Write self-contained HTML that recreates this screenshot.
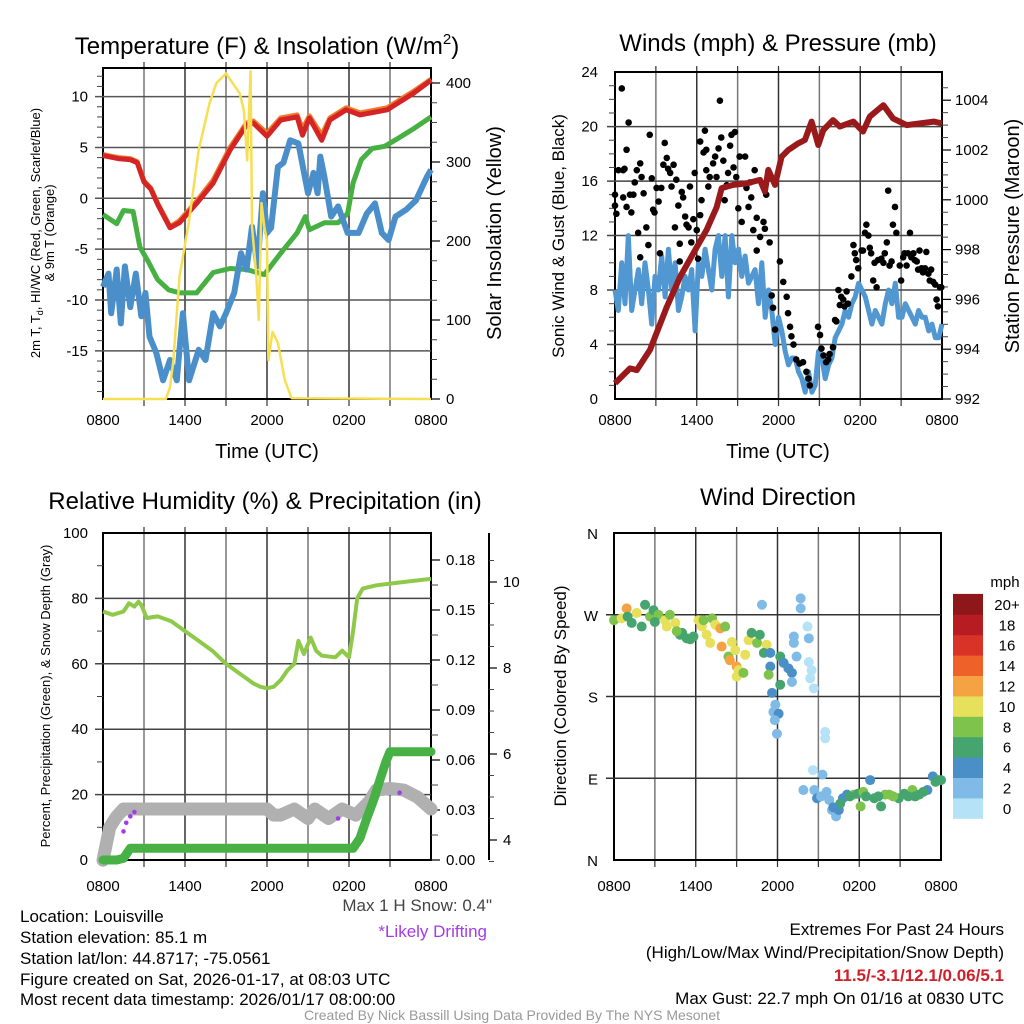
<!DOCTYPE html>
<html><head><meta charset="utf-8"><title>Mesonet Meteogram</title>
<style>
html,body{margin:0;padding:0;background:#fff;}
svg{display:block;font-family:"Liberation Sans",Arial,sans-serif;}
</style></head>
<body>
<svg id="chart" width="1024" height="1024" viewBox="0 0 1024 1024" xmlns="http://www.w3.org/2000/svg">
<rect x="0" y="0" width="1024" height="1024" fill="#fff"/>
<g id="layer"></g>
<!-- titles -->
<text x="267" y="54" font-size="24" text-anchor="middle">Temperature (F) &amp; Insolation (W/m<tspan font-size="15" dy="-10">2</tspan><tspan dy="10">)</tspan></text>
<text x="778" y="51" font-size="24" text-anchor="middle">Winds (mph) &amp; Pressure (mb)</text>
<text x="265" y="509" font-size="24" text-anchor="middle">Relative Humidity (%) &amp; Precipitation (in)</text>
<text x="778" y="505" font-size="24" text-anchor="middle">Wind Direction</text>
<!-- axis titles -->
<text transform="translate(40,233) rotate(-90)" font-size="13" text-anchor="middle">2m T, T<tspan font-size="9" dy="3">d</tspan><tspan dy="-3">, HI/WC (Red, Green, Scarlet/Blue)</tspan></text>
<text transform="translate(54,233) rotate(-90)" font-size="13" text-anchor="middle">&amp; 9m T (Orange)</text>
<text transform="translate(501,233) rotate(-90)" font-size="20" text-anchor="middle">Solar Insolation (Yellow)</text>
<text x="267" y="458" font-size="20" text-anchor="middle">Time (UTC)</text>
<text transform="translate(564,236) rotate(-90)" font-size="17" text-anchor="middle">Sonic Wind &amp; Gust (Blue, Black)</text>
<text transform="translate(1019,236) rotate(-90)" font-size="20" text-anchor="middle">Station Pressure (Maroon)</text>
<text x="778" y="458" font-size="20" text-anchor="middle">Time (UTC)</text>
<text transform="translate(50,696) rotate(-90)" font-size="13" text-anchor="middle">Percent, Precipitation (Green), &amp; Snow Depth (Gray)</text>
<text transform="translate(566,696) rotate(-90)" font-size="17" text-anchor="middle">Direction (Colored By Speed)</text>
<!-- footer texts -->
<g font-size="17">
<text x="20" y="922">Location: Louisville</text>
<text x="20" y="943">Station elevation: 85.1 m</text>
<text x="20" y="964">Station lat/lon: 44.8717; -75.0561</text>
<text x="20" y="985">Figure created on Sat, 2026-01-17, at 08:03 UTC</text>
<text x="20" y="1005">Most recent data timestamp: 2026/01/17 08:00:00</text>
</g>
<text x="492" y="911" font-size="17" fill="#444" text-anchor="end">Max 1 H Snow: 0.4"</text>
<text x="487" y="937" font-size="17" fill="#a53ae8" text-anchor="end">*Likely Drifting</text>
<text x="1004" y="935" font-size="17" text-anchor="end">Extremes For Past 24 Hours</text>
<text x="1004" y="958" font-size="17" text-anchor="end">(High/Low/Max Wind/Precipitation/Snow Depth)</text>
<text x="1004" y="981" font-size="17" font-weight="bold" fill="#d0202a" text-anchor="end">11.5/-3.1/12.1/0.06/5.1</text>
<text x="1004" y="1004" font-size="17" text-anchor="end">Max Gust: 22.7 mph On 01/16 at 0830 UTC</text>
<text x="512" y="1020" font-size="14" fill="#999" text-anchor="middle">Created By Nick Bassill Using Data Provided By The NYS Mesonet</text>
</svg>
<script>
// ---------- DATA ----------
const xTickLabels = ["0800","1400","2000","0200","0800"];
// Panel 1
const tempTimes = [0,1.1,2,2.5,3,3.5,4,4.9,5.6,6.85,8.06,9.3,10.5,11,12,13,14.2,14.6,15.1,16.0,16.6,17.8,18.8,20.8,22.7,24];
const tempValues = [4.2,3.9,3.8,3.5,1.6,0.9,-0.6,-2.9,-2.4,-0.5,1.5,4.75,7.2,7.4,6.1,7.7,8.0,6.2,7.9,5.7,7.7,8.7,8.2,8.7,10.3,11.6];
const temp9mValues = [4.3,4.0,3.9,3.6,1.7,1.0,-0.5,-2.8,-2.2,-0.3,1.8,5.0,7.4,7.6,6.4,7.9,8.2,6.8,8.1,6.2,7.9,8.9,8.4,8.9,10.5,11.7];
const dewTimes = [0,1,1.5,2.2,2.7,3.3,4,4.8,5.6,6.85,8.06,9.3,10.5,11.8,13,14.2,14.8,15.1,16.2,17.2,17.9,18.3,18.9,19.7,20.6,21.6,22.8,24];
const dewValues = [-1.6,-2.5,-1.2,-1.3,-4.8,-6.2,-8.0,-9.0,-9.3,-9.3,-7.3,-6.9,-7.0,-7.5,-5.4,-3.4,-1.8,-3.1,-2.4,-2.4,-1.5,1.5,3.8,4.9,5.1,5.9,6.9,8.0];
const wcTimes = [0,0.4,0.6,1.0,1.3,1.6,2.0,2.4,2.8,3.1,3.4,3.9,4.4,4.9,5.4,5.6,5.85,6.3,7.0,7.5,8.06,8.55,9.0,9.6,10.1,10.5,10.9,11.3,11.7,12.0,12.3,12.8,13.2,13.7,14.3,15.0,15.4,15.7,15.9,16.2,16.7,17.2,17.9,18.7,19.3,19.9,20.4,20.9,21.4,22.2,22.9,23.7,24];
const wcValues = [-8.7,-7.4,-11.3,-7.0,-12.3,-6.7,-10.7,-7.4,-11.6,-9.3,-13.6,-15.2,-17.9,-15.9,-17.9,-14.9,-11.3,-17.9,-14.9,-15.9,-11.3,-12.6,-11.3,-9.3,-5.4,-7.0,-2.8,-6.7,0.5,-3.4,-2.9,3.1,3.5,5.7,5.4,0.5,2.5,0.5,4.1,2.1,-1.8,-0.8,-3.4,-3.4,-1.5,-0.5,-3.4,-4.1,-1.8,-1.1,-0.2,2.1,2.8];
const solarTimes = [0,4.6,4.9,5.15,5.6,6.3,7.0,7.8,8.3,9.0,10,10.3,10.55,10.8,10.9,11.2,11.4,11.6,11.8,12.0,12.1,12.4,12.8,13.3,13.8,24];
const solarValues = [0,0,15,49,155,226,315,375,400,412,387,366,302,415,218,160,100,248,218,200,49,85,71,24,1,0];
const tempTicks = [10,5,0,-5,-10,-15];
const solarTicks = [0,100,200,300,400];
// Panel 2
const windValues = [8,6.5,10,7,12,6.5,8,9.5,7,10,8,5.5,9,8,10.5,7.5,11,8,10,6.5,7.5,9,8,9.5,5,10,9,11,9.5,8,11,12,9,12,7.5,12,10,11,9,10.5,8.5,9,9.5,7,10,6,8,6.5,4,6,5,3.5,2.5,3,3,2,1.5,0.5,2,0.5,1,3.5,3,1.5,2.5,3,4.5,5,5.5,6.5,6,7,7.5,8.5,8,7.5,6.5,5.5,6.5,6,5.5,7,8,7,8.5,6,6,7,6.5,6,5.5,6.5,6,6,5,5.5,4.5,4.5,5.5];
const gustTimes = [0,0,0.1,0.25,0.5,0.6,0.6,0.7,0.85,1.0,0.85,1.1,1.2,1.35,1.45,1.6,1.7,1.85,1.85,1.95,2.1,2.3,2.45,2.55,2.7,2.8,2.9,3.05,3.2,3.3,3.4,3.55,3.65,3.8,3.9,4.05,4.15,4.3,4.4,4.5,4.65,4.75,4.75,4.9,5.0,5.15,5.25,5.4,5.5,5.6,5.75,5.85,6.0,6.1,6.25,6.25,6.35,6.5,6.6,6.7,6.7,6.85,6.95,7.2,7.35,7.45,7.6,7.7,7.8,7.95,8.05,8.2,8.3,8.45,8.55,8.7,8.8,8.9,9.05,9.15,9.3,9.55,9.65,9.8,9.9,10.0,10.15,10.25,10.4,10.4,10.65,10.9,11.0,11.1,11.35,11.5,11.6,11.75,12.1,12.35,12.6,12.7,12.85,12.95,13.1,13.3,13.55,13.8,14.05,14.2,14.3,14.9,15.05,15.15,15.3,15.5,15.65,15.75,16.0,16.15,16.25,16.4,16.5,16.6,16.75,16.85,17.0,17.1,17.35,17.5,17.6,17.7,17.85,18.1,18.2,18.35,18.45,18.6,18.7,18.8,18.95,19.05,19.2,19.3,19.55,19.7,19.8,19.95,20.05,20.15,20.3,20.4,20.55,20.65,20.9,21.0,21.15,21.25,21.4,21.5,21.65,21.75,21.9,22.0,22.15,22.25,22.35,22.5,22.6,22.75,22.85,23.0,23.1,23.2,23.35,23.5,23.6,23.7,23.85,23.95];
const gustValues = [15.0,14.2,13.6,16.8,22.8,16.8,14.8,16.9,18.3,20.3,14.1,15.0,13.7,15.0,15.9,16.8,12.2,17.3,10.4,16.3,15.1,12.6,11.3,19.4,16.2,13.9,13.7,15.5,14.5,10.7,15.5,17.2,18.8,17.7,16.9,16.6,15.6,17.2,12.6,16.1,14.2,11.4,10.1,15.2,14.8,13.4,12.8,12.6,15.6,11.5,13.2,16.6,12.4,10.3,18.9,13.5,14.6,18.1,19.7,16.8,18.3,15.6,16.3,17.3,17.8,16.3,18.4,21.9,19.2,17.5,14.6,15.7,16.6,18.6,19.4,17.0,19.6,16.3,14.0,17.8,13.0,17.8,15.5,14.1,15.9,14.8,12.4,16.8,13.3,10.9,11.9,13.0,12.5,15.0,11.5,7.6,6.7,5.1,10.1,8.6,7.5,6.3,5.3,4.6,4.0,2.9,2.6,2.7,2.0,1.5,1.0,5.3,4.7,3.7,3.2,2.7,2.9,3.3,3.8,5.8,5.7,8.0,6.9,7.5,7.3,6.8,7.9,7.0,9.0,11.3,10.7,10.2,9.6,10.9,10.9,12.2,12.8,12.0,11.1,10.7,8.7,10.0,8.2,10.2,10.3,10.0,10.7,11.5,15.3,9.8,10.1,12.8,14.1,12.2,9.8,8.7,10.4,10.7,9.8,10.7,12.2,10.4,10.7,10.2,10.1,9.5,10.9,9.6,9.3,9.6,10.8,9.2,8.7,9.5,8.6,8.4,7.3,6.8,8.2,8.2];
const presTimes = [0,1.1,1.6,2.57,3.8,4.77,6.0,6.73,7.46,7.83,8.68,9.66,10.64,11.0,11.25,11.74,12.23,12.72,13.45,13.94,14.43,14.92,15.29,16.0,16.5,17.5,18.2,18.7,19.7,20.4,21.4,22.4,23.4,24];
const presValues = [992.63,993.23,993.16,993.97,995.7,996.9,998.1,998.8,999.7,1000.47,1000.6,1000.66,1000.8,1000.33,1001.2,1000.6,1001.73,1002.0,1002.27,1002.4,1003.14,1002.2,1002.8,1003.2,1002.94,1003.14,1002.74,1003.34,1003.8,1003.27,1003.0,1003.07,1003.14,1003.07];
const windTicks = [0,4,8,12,16,20,24];
const presTicks = [992,994,996,998,1000,1002,1004];
// Panel 3
const rhTimes = [0,0.7,1.5,1.9,2.3,2.6,2.8,3.2,4,5,6,7,8,9,10,11,11.5,12,12.5,13,13.5,14,14.3,14.7,15.2,15.6,16,17,17.5,18.0,18.3,18.6,19,20,22,24];
const rhValues = [76,75,76,78.5,77.5,79,78,74,74.5,73,70,67,64,60,57,54,53,52.5,53,55,58,60,67,63,68,64,62.5,62,64,62,70,80,83,84,85,86];
const precipTimes = [0,1.0,1.5,2.0,18.3,18.8,19.3,19.8,20.3,20.7,21,24];
const precipValues = [0,0,0.001,0.007,0.007,0.013,0.025,0.036,0.049,0.059,0.065,0.065];
const snowTimes = [0,0.5,1,1.5,12,12.5,13,14,15,15.5,16.5,17.5,18.5,19.5,20,21,22,23,24];
const snowValues = [3.53,4.3,4.55,4.72,4.72,4.58,4.58,4.72,4.5,4.72,4.5,4.72,4.58,4.9,5.16,5.2,5.16,5.0,4.72];
const driftTimes = [1.5,1.7,2.0,2.3,17.2,21.7];
const driftValues = [4.2,4.4,4.55,4.65,4.5,5.1];
const pctTicks = [0,20,40,60,80,100];
const precipTicks = ["0.00","0.03","0.06","0.09","0.12","0.15","0.18"];
const snowTicks = [4,6,8,10];
// Panel 4
const dirTimes = [0,0.56,0.93,1.3,1.67,2.03,2.28,2.65,2.9,3.26,3.75,4.1,3.87,4.5,4.85,5.34,5.83,6.2,6.45,6.57,6.8,7.2,7.43,7.8,8.16,7.06,7.9,8.65,8.4,8.5,8.9,9.0,9.14,9.0,9.5,9.63,9.88,10.1,10.5,10.7,10.86,11.2,11.0,11.47,11.47,11.35,12.2,12.2,12.45,12.8,13.06,13.06,13.4,13.2,13.2,13.7,13.7,14.2,14.3,14.3,14.5,14.4,14.66,11.6,11.84,11.7,12.08,11.8,11.96,13.9,14.6,15.5,15.5,15.3,14.7,14.9,15.6,15.8,16,16.3,16.5,16.8,17.1,17.6,17.9,18.1,18.3,18.8,19.1,19.6,19.9,20.2,20.9,21.3,21.9,22.4,23.0,23.4,23.6,16.6,17.3,18.5,19.4,20.5,21.6,22.1,22.7,23.8,24,15.2,16.1,1.0,3.0,5.0,5.6,4.6];
const dirValues = [264,266,277,261,272,257,281,268,275,270,264,270,257,261,248,244,246,264,257,264,248,266,259,255,257,239,235,240,224,220,231,213,209,202,206,226,242,250,239,248,281,237,228,228,213,204,193,224,217,211,206,196,224,246,239,288,277,257,244,218,209,200,189,184,171,163,161,154,139,77,99,141,134,94,77,68,75,66,55,48,55,68,72,72,73,59,75,88,68,59,72,72,68,73,77,72,77,92,86,62,70,70,70,70,70,70,75,88,88,70,58,268,262,250,243,252];
const dirSpeeds = [8,10,12,6,10,6,6,8,6,8,10,8,10,10,6,6,6,10,10,8,10,8,10,12,8,10,12,10,8,12,10,12,10,10,8,10,10,6,8,6,3,10,6,4,4,8,6,6,4,4,4,3,3,3,3,3,3,1,3,1,1,1,1,4,3,3,4,3,3,2,1,1,1,3,2,4,2,2,2,2,4,4,5,8,6,8,8,4,6,6,8,8,6,6,8,6,4,4,6,6,6,6,6,8,6,6,6,6,6,3,4,6,6,6,6,8];
const speedColors = ["#b6e2f7","#7fbbe6","#4a8fc6","#46a56f","#7ec34b","#e6e05a","#f5a243","#ee6128","#d93328","#b81c23","#8f1719"];
const speedLabels = ["0","2","4","6","8","10","12","14","16","18","20+"];
const dirTickLabels = ["N","E","S","W","N"];
const dirTickValues = [0,90,180,270,360];

// ---------- SCALES ----------
const NS = "http://www.w3.org/2000/svg";
const layer = document.getElementById('layer');
function mk(tag, attrs, parent) {
  const el = document.createElementNS(NS, tag);
  for (const k in attrs) el.setAttribute(k, attrs[k]);
  (parent || layer).appendChild(el);
  return el;
}
const x1 = h => 103 + h * 328 / 24;
const x2 = h => 615 + h * 327 / 24;
const x4 = h => 614 + h * 327 / 24;
const tempY = t => 198.3 - t * 10.17;
const solarY = w => 399 - w * 0.79;
const windY = v => 399 - v * 13.62;
const presY = p => 399 - (p - 992) * 24.9;
const pctY = v => 860 - v * 3.27;
const precipY = v => 860 - v * 1666.7;
const snowY = d => 840 - (d - 4) * 43;
const dirY = d => 860 - d * 327 / 360;

function pathFrom(ts, vs, xs, ys) {
  return ts.map((t, i) => (i ? 'L' : 'M') + xs(t).toFixed(1) + ',' + ys(vs[i]).toFixed(1)).join(' ');
}
function line(x1_, y1_, x2_, y2_, stroke, w, name) {
  const el = mk('line', {x1: x1_, y1: y1_, x2: x2_, y2: y2_, stroke: stroke, 'stroke-width': w});
  
  
  return el;
}
function txt(x, y, s, size, anchor, name) {
  const el = mk('text', {x: x, y: y, 'font-size': size, 'text-anchor': anchor});
  el.textContent = s;
  
  
  return el;
}
function frame(L, T, R, B, name) {
  for (let i = 1; i < 8; i++) {
    const x = L + (R - L) * i / 8;
    line(x, T, x, B, i % 2 ? '#777' : '#333', 1.5, name + '-vgrid');
    line(x, B, x, B + 7, '#333', 1.2, name + '-xtick');
    line(x, T, x, T - 6, '#333', 1.2, name + '-top-tick');
  }
  const r = mk('rect', {x: L, y: T, width: R - L, height: B - T, fill: 'none', stroke: '#000', 'stroke-width': 2});
  
  
}
function xlabels(L, R, y, name) {
  xTickLabels.forEach((s, i) => txt(L + (R - L) * i / 4, y, s, 15, 'middle', name + '-x-tick-label'));
}

// ---------- PANEL 1 ----------
frame(103, 68, 431, 399, 'temp-panel');
tempTicks.forEach(t => {
  line(95, tempY(t), 431, tempY(t), '#555', 1.5, 'temp-gridline');
  txt(88, tempY(t) + 5, String(t), 15, 'end', 'temp-y-tick-label');
});
for (let t = -19; t <= 12; t++) if (t % 5) line(97, tempY(t), 103, tempY(t), '#444', 1, 'temp-minor-tick');
solarTicks.forEach(w => {
  line(431, solarY(w), 440, solarY(w), '#000', 1.2, 'solar-tick');
  txt(446, solarY(w) + 5, String(w), 15, 'start', 'solar-y-tick-label');
});
for (let w = 25; w <= 400; w += 25) if (w % 100) line(431, solarY(w), 437, solarY(w), '#444', 1, 'solar-minor-tick');
xlabels(103, 431, 425, 'temp');
let p;
p = mk('path', {d: pathFrom(tempTimes, temp9mValues, x1, tempY), fill: 'none', stroke: '#f07a2a', 'stroke-width': 5, 'stroke-linejoin': 'round'});


p = mk('path', {d: pathFrom(tempTimes, tempValues, x1, tempY), fill: 'none', stroke: '#d42426', 'stroke-width': 5, 'stroke-linejoin': 'round'});


p = mk('path', {d: pathFrom(dewTimes, dewValues, x1, tempY), fill: 'none', stroke: '#46b043', 'stroke-width': 5, 'stroke-linejoin': 'round'});


p = mk('path', {d: pathFrom(wcTimes, wcValues, x1, tempY), fill: 'none', stroke: '#4a8fc9', 'stroke-width': 6, 'stroke-linejoin': 'round'});


p = mk('path', {d: pathFrom(solarTimes, solarValues, x1, solarY), fill: 'none', stroke: '#f7df55', 'stroke-width': 2.5, 'stroke-linejoin': 'round'});



// ---------- PANEL 2 ----------
frame(615, 72, 942, 399, 'wind-panel');
windTicks.forEach(v => {
  if (v > 0 && v < 24) line(607, windY(v), 942, windY(v), '#444', 1.5, 'wind-gridline');
  txt(598, windY(v) + 5, String(v), 15, 'end', 'wind-y-tick-label');
});
for (let v = 1; v < 24; v++) if (v % 4) line(609, windY(v), 615, windY(v), '#444', 1, 'wind-minor-tick');
presTicks.forEach(pv => {
  line(942, presY(pv), 951, presY(pv), '#000', 1.2, 'pressure-tick');
  txt(955, presY(pv) + 5, String(pv), 15, 'start', 'pressure-y-tick-label');
});
for (let pv = 992.5; pv < 1005; pv += 0.5) if (pv % 2) line(942, presY(pv), 948, presY(pv), '#444', 1, 'pressure-minor-tick');
xlabels(615, 942, 425, 'wind');
const windTimes = windValues.map((v, i) => i * 24 / (windValues.length - 1));
p = mk('path', {d: pathFrom(windTimes, windValues, x2, windY), fill: 'none', stroke: '#5197d2', 'stroke-width': 5, 'stroke-linejoin': 'round'});


gustValues.forEach((g, i) => {
  const c = mk('circle', {cx: x2(gustTimes[i]), cy: windY(g), r: 3.3, fill: '#000'});
  
  
});
p = mk('path', {d: pathFrom(presTimes, presValues, x2, presY), fill: 'none', stroke: '#9a1a1c', 'stroke-width': 6, 'stroke-linejoin': 'round'});



// ---------- PANEL 3 ----------
frame(103, 533, 431, 860, 'humidity-panel');
pctTicks.forEach(v => {
  if (v > 0 && v < 100) line(95, pctY(v), 431, pctY(v), '#444', 1.5, 'humidity-gridline');
  txt(88, pctY(v) + 5, String(v), 15, 'end', 'humidity-y-tick-label');
});
for (let v = 10; v < 100; v += 20) line(97, pctY(v), 103, pctY(v), '#444', 1, 'humidity-minor-tick');
precipTicks.forEach(s => {
  const v = parseFloat(s);
  line(431, precipY(v), 440, precipY(v), '#000', 1.2, 'precip-tick');
  txt(446, precipY(v) + 5, s, 15, 'start', 'precip-y-tick-label');
});
for (let v = 0.015; v < 0.19; v += 0.03) line(431, precipY(v), 438, precipY(v), '#444', 1, 'precip-minor-tick');
line(489, 533, 489, 860, '#000', 2, 'snow-depth-axis');
snowTicks.forEach(d => {
  line(489, snowY(d), 497, snowY(d), '#000', 1.2, 'snow-tick');
  txt(503, snowY(d) + 5, String(d), 15, 'start', 'snow-y-tick-label');
});
for (let d = 3.5; d < 11; d += 0.5) if (d % 2) line(489, snowY(d), 494, snowY(d), '#444', 1, 'snow-minor-tick');
xlabels(103, 431, 891, 'humidity');
p = mk('path', {d: pathFrom(snowTimes, snowValues, x1, snowY), fill: 'none', stroke: '#b0b0b0', 'stroke-width': 13, 'stroke-linejoin': 'round', 'stroke-linecap': 'round'});


p = mk('path', {d: pathFrom(precipTimes, precipValues, x1, precipY), fill: 'none', stroke: '#48b145', 'stroke-width': 9, 'stroke-linejoin': 'round', 'stroke-linecap': 'round'});


p = mk('path', {d: pathFrom(rhTimes, rhValues, x1, pctY), fill: 'none', stroke: '#8fc94a', 'stroke-width': 4, 'stroke-linejoin': 'round'});


driftValues.forEach((d, i) => {
  const c = mk('circle', {cx: x1(driftTimes[i]), cy: snowY(d), r: 2.3, fill: '#a53ae8'});
  
  
});

// ---------- PANEL 4 ----------
frame(614, 533, 941, 860, 'direction-panel');
dirTickValues.forEach((d, i) => {
  if (d > 0 && d < 360) line(606, dirY(d), 941, dirY(d), '#333', 1.5, 'direction-gridline');
  txt(598, dirY(d) + 6, dirTickLabels[i], 15, 'end', 'direction-y-tick-label');
});
xlabels(614, 941, 891, 'direction');
dirValues.forEach((d, i) => {
  const s = dirSpeeds[i];
  const c = mk('circle', {cx: x4(dirTimes[i]), cy: dirY(d), r: 5, fill: speedColors[Math.min(10, Math.floor(s / 2))]});
  
  
});
speedLabels.forEach((s, i) => {
  const y = 818.3 - (i + 1) * 20.4;
  const r = mk('rect', {x: 953, y: y, width: 30, height: 20.9, fill: speedColors[i]});
  
  
  txt(1007, y + 16, s, 15, 'middle', 'colorbar-label');
});
txt(1005, 587, 'mph', 15, 'middle', 'colorbar-title');
</script>
</body></html>
